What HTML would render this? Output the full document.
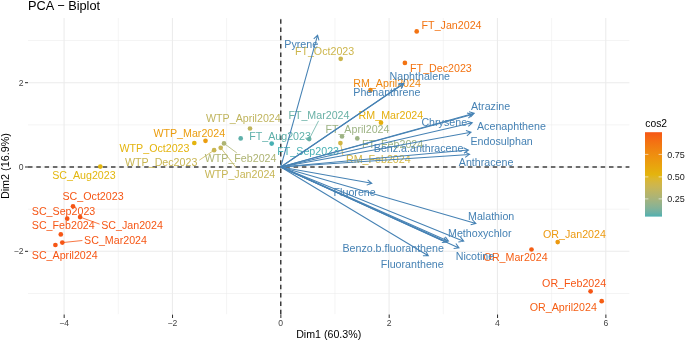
<!DOCTYPE html><html><head><meta charset="utf-8"><style>html,body{margin:0;padding:0;background:#fff;overflow:hidden}svg{display:block;will-change:transform}</style></head><body><svg width="685" height="341" viewBox="0 0 685 341"><rect width="685" height="341" fill="#fff"/><g stroke="#EBEBEB" stroke-width="0.55"><line x1="118.24" y1="18.0" x2="118.24" y2="314.2"/><line x1="226.58" y1="18.0" x2="226.58" y2="314.2"/><line x1="334.92" y1="18.0" x2="334.92" y2="314.2"/><line x1="443.26" y1="18.0" x2="443.26" y2="314.2"/><line x1="551.60" y1="18.0" x2="551.60" y2="314.2"/><line x1="28.0" y1="293.51" x2="629.4" y2="293.51"/><line x1="28.0" y1="209.17" x2="629.4" y2="209.17"/><line x1="28.0" y1="124.83" x2="629.4" y2="124.83"/><line x1="28.0" y1="40.49" x2="629.4" y2="40.49"/></g><g stroke="#EBEBEB" stroke-width="1.05"><line x1="64.07" y1="18.0" x2="64.07" y2="314.2"/><line x1="172.41" y1="18.0" x2="172.41" y2="314.2"/><line x1="280.75" y1="18.0" x2="280.75" y2="314.2"/><line x1="389.09" y1="18.0" x2="389.09" y2="314.2"/><line x1="497.43" y1="18.0" x2="497.43" y2="314.2"/><line x1="605.77" y1="18.0" x2="605.77" y2="314.2"/><line x1="28.0" y1="251.34" x2="629.4" y2="251.34"/><line x1="28.0" y1="167.00" x2="629.4" y2="167.00"/><line x1="28.0" y1="82.66" x2="629.4" y2="82.66"/></g><g stroke="#333" stroke-width="1.05"><line x1="64.17" y1="314.59999999999997" x2="64.17" y2="318.0"/><line x1="172.51" y1="314.59999999999997" x2="172.51" y2="318.0"/><line x1="280.85" y1="314.59999999999997" x2="280.85" y2="318.0"/><line x1="389.19" y1="314.59999999999997" x2="389.19" y2="318.0"/><line x1="497.53" y1="314.59999999999997" x2="497.53" y2="318.0"/><line x1="605.87" y1="314.59999999999997" x2="605.87" y2="318.0"/><line x1="25.0" y1="251.34" x2="28.0" y2="251.34"/><line x1="25.0" y1="167.00" x2="28.0" y2="167.00"/><line x1="25.0" y1="82.66" x2="28.0" y2="82.66"/></g><g stroke="#000" stroke-opacity="0.75" stroke-width="1.5" stroke-dasharray="4.5 3.8"><line x1="28.0" y1="167.00" x2="629.4" y2="167.00"/><line x1="280.75" y1="314.2" x2="280.75" y2="18.0"/></g><g font-family="Liberation Sans, sans-serif" font-size="8.6" fill="#444"><text x="64.07" y="325.80" text-anchor="middle">−4</text><text x="172.41" y="325.80" text-anchor="middle">−2</text><text x="280.75" y="325.80" text-anchor="middle">0</text><text x="389.09" y="325.80" text-anchor="middle">2</text><text x="497.43" y="325.80" text-anchor="middle">4</text><text x="605.77" y="325.80" text-anchor="middle">6</text><text x="23.60" y="254.34" text-anchor="end">−2</text><text x="23.60" y="170.00" text-anchor="end">0</text><text x="23.60" y="85.66" text-anchor="end">2</text></g><text x="328.70" y="337.8" text-anchor="middle" font-family="Liberation Sans, sans-serif" font-size="10.65" fill="#000">Dim1 (60.3%)</text><text transform="translate(8.8,166.10) rotate(-90)" text-anchor="middle" font-family="Liberation Sans, sans-serif" font-size="10.8" fill="#000">Dim2 (16.9%)</text><text x="28.1" y="9.8" font-family="Liberation Sans, sans-serif" font-size="12.75" fill="#000">PCA − Biplot</text><g><line x1="340.4" y1="143.1" x2="343.0" y2="155.5" stroke="#D2B644" stroke-width="0.8"/><line x1="309.2" y1="139.1" x2="318.6" y2="120.8" stroke="#6AB1A6" stroke-width="0.8"/><line x1="214.1" y1="150.2" x2="199.4" y2="160.1" stroke="#C9B652" stroke-width="0.8"/><line x1="224.0" y1="143.4" x2="236.8" y2="152.9" stroke="#AEB473" stroke-width="0.8"/><line x1="220.7" y1="147.8" x2="236.1" y2="167.6" stroke="#C7B656" stroke-width="0.8"/><line x1="80.1" y1="217.1" x2="99.6" y2="224.1" stroke="#F65615" stroke-width="0.8"/><line x1="62.3" y1="242.6" x2="82.4" y2="240.5" stroke="#F65615" stroke-width="0.8"/></g><g><circle cx="416.7" cy="31.4" r="2.35" fill="#F37312"/><circle cx="404.9" cy="62.9" r="2.35" fill="#F37312"/><circle cx="340.7" cy="58.8" r="2.35" fill="#CDB64C"/><circle cx="370.4" cy="90.2" r="2.35" fill="#EF8710"/><circle cx="381.0" cy="122.7" r="2.35" fill="#E5AF0E"/><circle cx="342.0" cy="136.5" r="2.35" fill="#9DB384"/><circle cx="357.3" cy="138.4" r="2.35" fill="#9DB384"/><circle cx="340.4" cy="143.1" r="2.35" fill="#D2B644"/><circle cx="309.2" cy="139.1" r="2.35" fill="#6AB1A6"/><circle cx="240.7" cy="138.4" r="2.35" fill="#5EB0AA"/><circle cx="271.7" cy="143.6" r="2.35" fill="#47B0B3"/><circle cx="250.0" cy="128.5" r="2.35" fill="#C0B55F"/><circle cx="205.5" cy="140.8" r="2.35" fill="#EB9D0F"/><circle cx="194.3" cy="143.0" r="2.35" fill="#E4B40E"/><circle cx="214.1" cy="150.2" r="2.35" fill="#C9B652"/><circle cx="224.0" cy="143.4" r="2.35" fill="#AEB473"/><circle cx="220.7" cy="147.8" r="2.35" fill="#C7B656"/><circle cx="100.3" cy="166.6" r="2.35" fill="#E3B70E"/><circle cx="73.0" cy="206.3" r="2.35" fill="#F65615"/><circle cx="67.2" cy="218.7" r="2.35" fill="#F65615"/><circle cx="80.1" cy="217.1" r="2.35" fill="#F65615"/><circle cx="60.8" cy="234.4" r="2.35" fill="#F65615"/><circle cx="62.3" cy="242.6" r="2.35" fill="#F65615"/><circle cx="55.4" cy="245.0" r="2.35" fill="#F65615"/><circle cx="557.7" cy="242.1" r="2.35" fill="#EC990F"/><circle cx="531.5" cy="249.5" r="2.35" fill="#F55E14"/><circle cx="590.6" cy="291.3" r="2.35" fill="#F65615"/><circle cx="601.7" cy="301.2" r="2.35" fill="#F55E14"/></g><g font-family="Liberation Sans, sans-serif" font-size="10.68"><text x="421.60" y="29.44" fill="#F37312">FT_Jan2024</text><text x="410.10" y="72.24" fill="#F37312">FT_Dec2023</text><text x="294.90" y="55.04" fill="#CDB64C">FT_Oct2023</text><text x="353.30" y="87.44" fill="#EF8710">RM_April2024</text><text x="358.60" y="119.24" fill="#E5AF0E">RM_Mar2024</text><text x="325.40" y="133.14" fill="#9DB384">FT_April2024</text><text x="362.10" y="147.94" fill="#9DB384">FT_Feb2024</text><text x="346.00" y="163.04" fill="#D2B644">RM_Feb2024</text><text x="288.40" y="118.74" fill="#6AB1A6">FT_Mar2024</text><text x="249.20" y="140.04" fill="#5EB0AA">FT_Aug2023</text><text x="277.30" y="154.64" fill="#47B0B3">FT_Sep2023</text><text x="206.00" y="122.14" fill="#C0B55F">WTP_April2024</text><text x="153.40" y="136.84" fill="#EB9D0F">WTP_Mar2024</text><text x="119.50" y="151.74" fill="#E4B40E">WTP_Oct2023</text><text x="125.00" y="166.04" fill="#C9B652">WTP_Dec2023</text><text x="204.70" y="162.24" fill="#AEB473">WTP_Feb2024</text><text x="204.70" y="177.64" fill="#C7B656">WTP_Jan2024</text><text x="52.20" y="178.64" fill="#E3B70E">SC_Aug2023</text><text x="62.50" y="200.14" fill="#F65615">SC_Oct2023</text><text x="31.80" y="214.94" fill="#F65615">SC_Sep2023</text><text x="101.20" y="229.24" fill="#F65615">SC_Jan2024</text><text x="31.80" y="229.44" fill="#F65615">SC_Feb2024</text><text x="84.10" y="244.24" fill="#F65615">SC_Mar2024</text><text x="31.80" y="258.74" fill="#F65615">SC_April2024</text><text x="543.00" y="237.94" fill="#EC990F">OR_Jan2024</text><text x="483.60" y="261.34" fill="#F55E14">OR_Mar2024</text><text x="542.10" y="286.54" fill="#F65615">OR_Feb2024</text><text x="529.80" y="311.14" fill="#F55E14">OR_April2024</text></g><g stroke="#4682B4" stroke-width="1.05" fill="none"><path d="M280.75,167.00L317.60,35.20M318.94,40.43L317.60,35.20L313.74,38.98"/><path d="M280.75,167.00L403.90,83.30M401.55,88.16L403.90,83.30L398.51,83.70"/><path d="M280.75,167.00L403.50,83.80M401.14,88.66L403.50,83.80L398.11,84.19"/><path d="M280.75,167.00L474.20,113.20M470.42,117.05L474.20,113.20L468.97,111.85"/><path d="M280.75,167.00L472.20,114.40M468.41,118.24L472.20,114.40L466.98,113.04"/><path d="M280.75,167.00L472.30,122.80M468.35,126.48L472.30,122.80L467.14,121.22"/><path d="M280.75,167.00L471.00,132.30M466.88,135.80L471.00,132.30L465.91,130.48"/><path d="M280.75,167.00L468.40,150.10M463.98,153.21L468.40,150.10L463.50,147.83"/><path d="M280.75,167.00L469.60,154.40M465.11,157.41L469.60,154.40L464.75,152.02"/><path d="M280.75,167.00L371.80,183.30M366.72,185.13L371.80,183.30L367.67,179.82"/><path d="M280.75,167.00L475.90,223.40M470.66,224.70L475.90,223.40L472.16,219.51"/><path d="M280.75,167.00L463.70,241.20M458.35,241.94L463.70,241.20L460.38,236.94"/><path d="M280.75,167.00L459.00,247.90M453.63,248.43L459.00,247.90L455.86,243.51"/><path d="M280.75,167.00L448.50,241.20M443.13,241.78L448.50,241.20L445.32,236.84"/><path d="M280.75,167.00L428.30,255.80M422.90,255.70L428.30,255.80L425.69,251.08"/><path d="M280.75,167.00L447.20,242.00M441.83,242.54L447.20,242.00L444.05,237.62"/><path d="M280.75,167.00L442.00,240.40"/></g><g font-family="Liberation Sans, sans-serif" font-size="10.68"><text x="284.30" y="47.84" fill="#4682B4">Pyrene</text><text x="389.50" y="79.94" fill="#4682B4">Naphthalene</text><text x="353.30" y="95.84" fill="#4682B4">Phenanthrene</text><text x="471.00" y="109.84" fill="#4682B4">Atrazine</text><text x="421.40" y="126.24" fill="#4682B4">Chrysene</text><text x="477.00" y="129.84" fill="#4682B4">Acenaphthene</text><text x="470.50" y="145.04" fill="#4682B4">Endosulphan</text><text x="373.80" y="151.64" fill="#4682B4">Benz.a.anthracene</text><text x="458.80" y="166.44" fill="#4682B4">Anthracene</text><text x="333.60" y="196.24" fill="#4682B4">Fluorene</text><text x="468.00" y="220.14" fill="#4682B4">Malathion</text><text x="448.00" y="236.84" fill="#4682B4">Methoxychlor</text><text x="455.70" y="259.84" fill="#4682B4">Nicotine</text><text x="342.40" y="251.84" fill="#4682B4">Benzo.b.fluoranthene</text><text x="380.80" y="268.04" fill="#4682B4">Fluoranthene</text></g><defs><linearGradient id="cg" x1="0" y1="1" x2="0" y2="0"><stop offset="0.00" stop-color="#4FB0B0"/><stop offset="0.05" stop-color="#6EB1A4"/><stop offset="0.10" stop-color="#84B297"/><stop offset="0.15" stop-color="#94B38B"/><stop offset="0.20" stop-color="#A4B37E"/><stop offset="0.25" stop-color="#B1B471"/><stop offset="0.30" stop-color="#BDB563"/><stop offset="0.35" stop-color="#C9B654"/><stop offset="0.40" stop-color="#D3B643"/><stop offset="0.45" stop-color="#DDB72B"/><stop offset="0.50" stop-color="#E4B40E"/><stop offset="0.55" stop-color="#E6AC0E"/><stop offset="0.60" stop-color="#E9A40E"/><stop offset="0.65" stop-color="#EB9C0F"/><stop offset="0.70" stop-color="#EE930F"/><stop offset="0.75" stop-color="#EF8B10"/><stop offset="0.80" stop-color="#F08211"/><stop offset="0.85" stop-color="#F27812"/><stop offset="0.90" stop-color="#F46E13"/><stop offset="0.95" stop-color="#F56314"/><stop offset="1.00" stop-color="#F65615"/></linearGradient></defs><rect x="645" y="132.2" width="17" height="84.4" fill="url(#cg)"/><g stroke="#fff" stroke-width="0.6"><line x1="645" y1="154.4" x2="648.4" y2="154.4"/><line x1="658.6" y1="154.4" x2="662" y2="154.4"/><line x1="645" y1="176.9" x2="648.4" y2="176.9"/><line x1="658.6" y1="176.9" x2="662" y2="176.9"/><line x1="645" y1="198.9" x2="648.4" y2="198.9"/><line x1="658.6" y1="198.9" x2="662" y2="198.9"/></g><text x="645.3" y="126.5" font-family="Liberation Sans, sans-serif" font-size="10.3" fill="#000">cos2</text><g font-family="Liberation Sans, sans-serif" font-size="9.0" fill="#1A1A1A"><text x="667.3" y="157.80">0.75</text><text x="667.3" y="180.30">0.50</text><text x="667.3" y="202.30">0.25</text></g></svg></body></html>
